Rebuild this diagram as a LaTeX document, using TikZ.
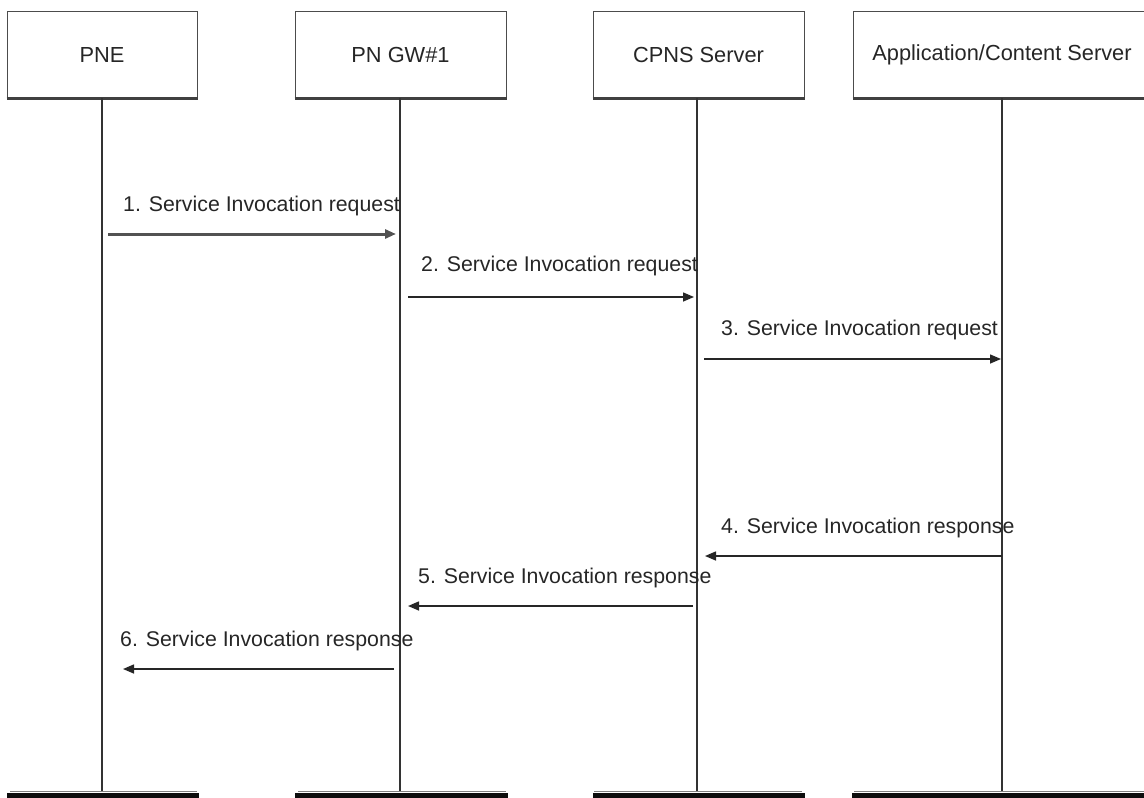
\documentclass[tikz,border=0pt]{standalone}
\usepackage{fontspec}
\setmainfont{Liberation Sans}
\usetikzlibrary{arrows.meta}
\begin{document}
\begin{tikzpicture}[x=1pt,y=-1pt,
  actor/.style={draw=black!70, line width=1pt, fill=white, minimum height=87pt, inner sep=0pt, font=\fontsize{21.8}{25}\selectfont, text=black!85},
  shadowline/.style={draw=black!75, line width=2.6pt},
  life/.style={draw=black!80, line width=1.6pt},
  msg/.style={draw=black!85, line width=1.5pt, -{Triangle[length=11pt,width=9pt]}},
  boldmsg/.style={msg, draw=black!68, line width=3pt},
  lbl/.style={anchor=west, inner sep=0pt, font=\fontsize{21.3}{25}\selectfont, text=black!85},
  barfill/.style={fill=black!95},
  barline/.style={draw=black!50, line width=1pt},
]
\useasboundingbox (0,0) rectangle (1144,798);
\clip (0,0) rectangle (1144,798);
% actors
\node[actor, minimum width=190pt] (pne) at (102,54.5) {PNE};
\node[actor, minimum width=211pt] (gw) at (400.5,54.5) {PN GW\#1};
\node[actor, minimum width=211pt] (cpns) at (698.5,54.5) {CPNS Server};
\node[actor, minimum width=298pt] (app) at (1002,54.5) {Application/Content Server};
\foreach \n in {pne,gw,cpns,app}{\draw[shadowline] (\n.south west) -- (\n.south east);}
% lifeline end coordinates
\coordinate (pneS) at (102,98);   \coordinate (pneE) at (102,792);
\coordinate (gwS) at (400,98);    \coordinate (gwE) at (400,792);
\coordinate (cpnsS) at (697,98);  \coordinate (cpnsE) at (697,792);
\coordinate (appS) at (1002,98);  \coordinate (appE) at (1002,792);
\draw[life] (pneS) -- (pneE);
\draw[life] (gwS) -- (gwE);
\draw[life] (cpnsS) -- (cpnsE);
\draw[life] (appS) -- (appE);
% bottom bars
\fill[barfill] (7,792.5) rectangle (199,798);
\fill[barfill] (295,792.5) rectangle (508,798);
\fill[barfill] (593,792.5) rectangle (805,798);
\fill[barfill] (852,792.5) rectangle (1150,798);
\draw[barline] (10,791) -- (197,791);
\draw[barline] (298,791) -- (506,791);
\draw[barline] (594,791) -- (802,791);
\draw[barline] (854,791) -- (1150,791);
% messages
\coordinate (m1s) at (108,234);  \coordinate (m1e) at (396,234);
\coordinate (m2s) at (408,297);  \coordinate (m2e) at (694,297);
\coordinate (m3s) at (704,359);  \coordinate (m3e) at (1001,359);
\coordinate (m4s) at (1002,556); \coordinate (m4e) at (705,556);
\coordinate (m5s) at (693,606);  \coordinate (m5e) at (408,606);
\coordinate (m6s) at (394,669);  \coordinate (m6e) at (123,669);
\draw[boldmsg] (m1s) -- (m1e);
\draw[msg] (m2s) -- (m2e);
\draw[msg] (m3s) -- (m3e);
\draw[msg] (m4s) -- (m4e);
\draw[msg] (m5s) -- (m5e);
\draw[msg] (m6s) -- (m6e);
\node[lbl] (l1) at (123,206) {1. Service Invocation request};
\node[lbl] (l2) at (421,266) {2. Service Invocation request};
\node[lbl] (l3) at (721,330) {3. Service Invocation request};
\node[lbl] (l4) at (721,528) {4. Service Invocation response};
\node[lbl] (l5) at (418,578) {5. Service Invocation response};
\node[lbl] (l6) at (120,641) {6. Service Invocation response};
\end{tikzpicture}
\end{document}
